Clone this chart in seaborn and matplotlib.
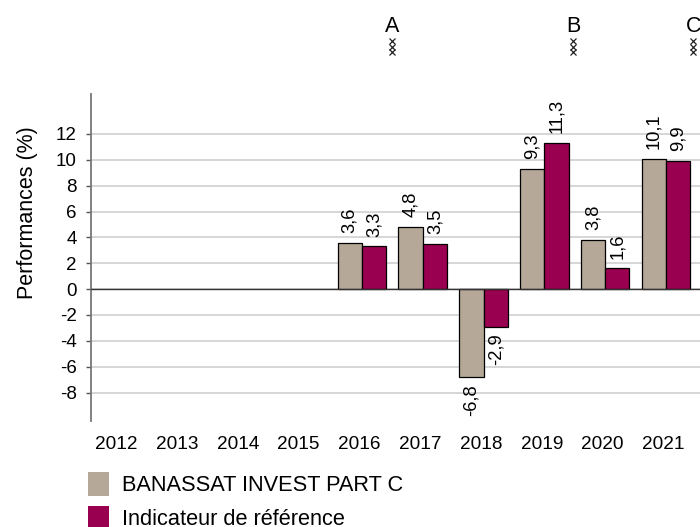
import matplotlib
matplotlib.use("Agg")
import matplotlib.pyplot as plt
import matplotlib.transforms as mtrans
import seaborn as sns
import pandas as pd

# Values
YEARS = ["2012", "2013", "2014", "2015", "2016", "2017", "2018", "2019", "2020", "2021"]
BAR_YEARS = ["2016", "2017", "2018", "2019", "2020", "2021"]
FUND_VALUES = [3.6, 4.8, -6.8, 9.3, 3.8, 10.1]
INDEX_VALUES = [3.3, 3.5, -2.9, 11.3, 1.6, 9.9]
FUND_NAME = "BANASSAT INVEST PART C"
INDEX_NAME = "Indicateur de référence"
Y_TICKS = [-8, -6, -4, -2, 0, 2, 4, 6, 8, 10, 12]
PERIOD_LABELS = ["A", "B", "C"]
PERIOD_X = [4.49, 7.47, 9.45]

sns.set_theme(style="white")
plt.rcParams["font.family"] = ["Liberation Sans", "DejaVu Sans"]
plt.rcParams["axes.unicode_minus"] = False

df = pd.DataFrame({
    "year": BAR_YEARS * 2,
    "value": FUND_VALUES + INDEX_VALUES,
    "series": [FUND_NAME] * len(BAR_YEARS) + [INDEX_NAME] * len(BAR_YEARS),
})

fig = plt.figure(figsize=(7, 5.27), dpi=100)
ax = fig.add_axes([91 / 700, 1 - 421 / 527, 609 / 700, 327 / 527])

sns.barplot(
    data=df, x="year", y="value", hue="series", order=YEARS,
    palette=["#B5A899", "#990050"], width=0.8, saturation=1,
    edgecolor="black", linewidth=0.9, ax=ax, zorder=3,
)

ax.set_xlim(-0.457, 9.56)
ax.set_ylim(-10.2, 15.09)
ax.set_yticks(Y_TICKS)
ax.yaxis.grid(True, color="#CCCCCC", linewidth=1.1, zorder=0)
ax.set_axisbelow(True)
ax.axhline(0, color="#333333", linewidth=1, zorder=4)

for side in ["top", "right", "bottom"]:
    ax.spines[side].set_visible(False)
ax.spines["left"].set_color("#777777")
ax.spines["left"].set_linewidth(1.3)

ax.tick_params(axis="y", left=True, length=3.6, width=1, color="#555555", pad=6.5, labelsize=13.5, labelcolor="black")
ax.tick_params(axis="x", bottom=False, pad=4.5, labelsize=13.7, labelcolor="black")
ax.set_xlabel("")
ax.set_ylabel("Performances (%)", fontsize=15.5, color="black")
ax.yaxis.set_label_coords(-0.087, 0.636)

# year labels sit a little left of the bar groups
shift = mtrans.ScaledTranslation(-1.8 / 72, 0, fig.dpi_scale_trans)
for tick_label in ax.get_xticklabels():
    tick_label.set_transform(tick_label.get_transform() + shift)

# French decimal comma on the rotated labels
for container in ax.containers:
    texts = ax.bar_label(container, fmt=lambda v: f"{v:.1f}".replace(".", ","),
                         rotation=90, padding=7, fontsize=13.2, color="black", zorder=5)
    # negative labels sit closer to their bar
    for t in texts:
        if t.get_text().startswith("-"):
            t.xyann = (t.xyann[0], -5)

# Period markers above the plot
trans = ax.get_xaxis_transform()
for label, x in zip(PERIOD_LABELS, PERIOD_X):
    ax.text(x, 1.205, label, transform=trans, ha="center", va="center",
            fontsize=15.5, color="black", clip_on=False)
    for y in [1.162, 1.145, 1.128]:
        ax.plot([x], [y], transform=trans, marker="x", markersize=4.3,
                markeredgewidth=0.9, color="#222222", clip_on=False)

handles, labels = ax.get_legend_handles_labels()
ax.legend(
    handles, labels, loc="upper left", bbox_to_anchor=(88 / 700, 1 - 472 / 527),
    bbox_transform=fig.transFigure, frameon=False, fontsize=15.7, labelcolor="black",
    handlelength=0.96, handleheight=1.32, handletextpad=0.6, labelspacing=0.45,
    borderpad=0, borderaxespad=0, title=None,
)
for patch in ax.get_legend().get_patches():
    patch.set_linewidth(0)

fig.savefig("out.png", dpi=100)
